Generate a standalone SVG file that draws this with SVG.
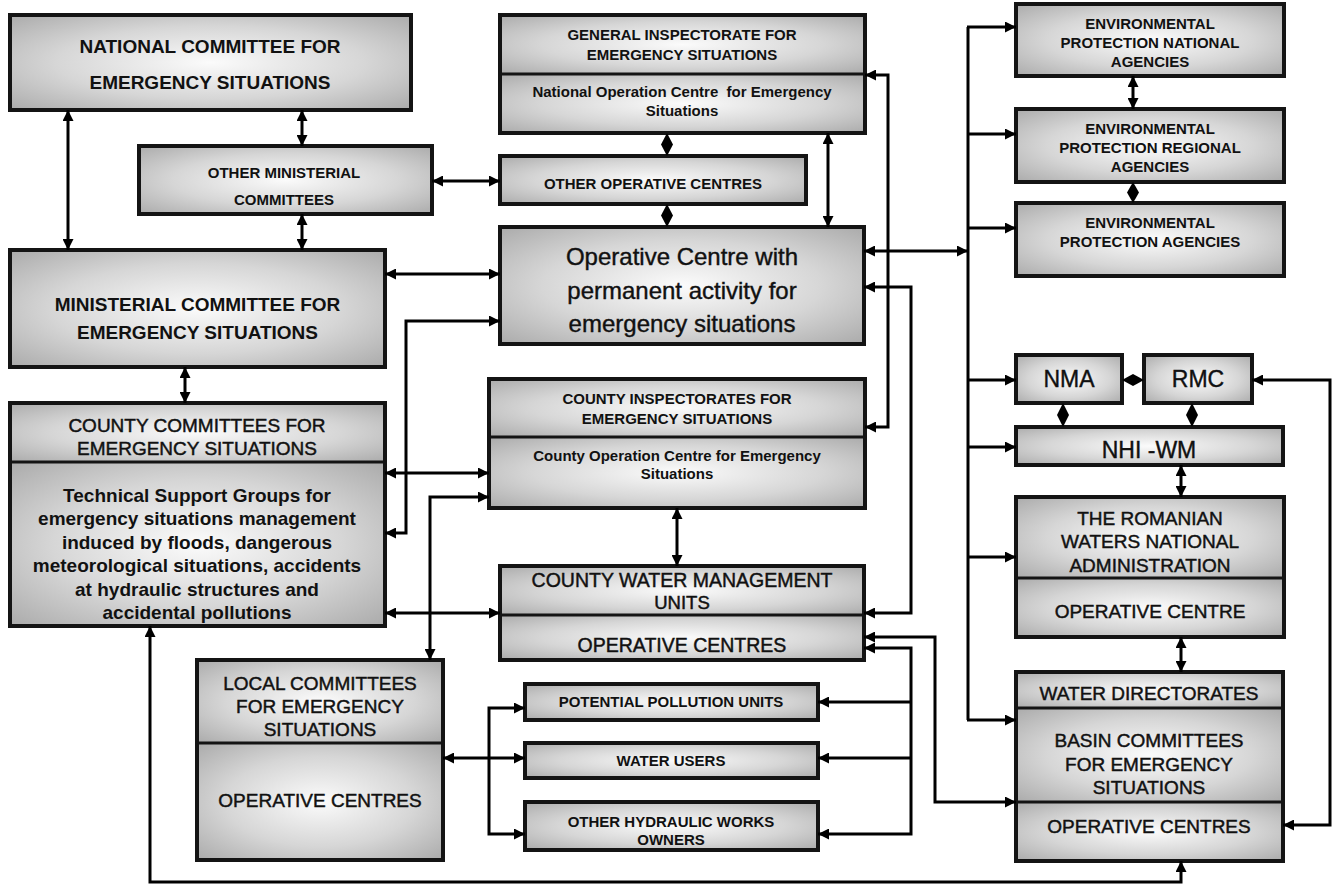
<svg xmlns="http://www.w3.org/2000/svg" width="1336" height="885" viewBox="0 0 1336 885">
<defs>
<radialGradient id="g" cx="50%" cy="50%" r="70%">
<stop offset="0" stop-color="#fbfbfb"/>
<stop offset="0.55" stop-color="#d6d6d6"/>
<stop offset="1" stop-color="#ababab"/>
</radialGradient>
<marker id="a" viewBox="0 0 10 10" refX="10" refY="5" markerWidth="11" markerHeight="11" markerUnits="userSpaceOnUse" orient="auto-start-reverse">
<path d="M0,0 L10,5 L0,10 z" fill="#000"/>
</marker>
</defs>
<style>
.s{fill:url(#g);stroke:none}
.b{fill:none;stroke:#141414;stroke-width:4}
.d{stroke:#141414;stroke-width:3}
.c{fill:none;stroke:#000;stroke-width:3;marker-start:url(#a);marker-end:url(#a)}
.e{fill:none;stroke:#000;stroke-width:3;marker-end:url(#a)}
.dm{fill:#000}
text{font-family:"Liberation Sans",Arial,sans-serif;fill:#111;text-anchor:middle}
.tb19{font-size:19px;font-weight:bold}
.tr19{font-size:19px;stroke:#111;stroke-width:0.45}
.tr185{font-size:18.5px;stroke:#111;stroke-width:0.45}
.tr195{font-size:19.5px;stroke:#111;stroke-width:0.45}
.tb15{font-size:15px;font-weight:bold}
.tr24{font-size:24px;stroke:#111;stroke-width:0.4}
.tr23{font-size:23px;stroke:#111;stroke-width:0.4}
</style>
<rect width="1336" height="885" fill="#fff"/>

<g id="national">
<rect class="s" x="10" y="15" width="401" height="95"/>
<rect class="b" x="10" y="15" width="401" height="95"/>
<text class="tb19" x="210" y="53">NATIONAL COMMITTEE FOR</text>
<text class="tb19" x="210" y="89">EMERGENCY SITUATIONS</text>
</g>

<g id="other-ministerial">
<rect class="s" x="139" y="146" width="293" height="68"/>
<rect class="b" x="139" y="146" width="293" height="68"/>
<text class="tb15" x="284" y="178">OTHER MINISTERIAL</text>
<text class="tb15" x="284" y="205">COMMITTEES</text>
</g>

<g id="general-inspectorate">
<rect class="s" x="500" y="15" width="365" height="59"/>
<rect class="s" x="500" y="74" width="365" height="59"/>
<rect class="b" x="500" y="15" width="365" height="118"/>
<line class="d" x1="500" y1="74" x2="865" y2="74"/>
<text class="tb15" x="682" y="40">GENERAL INSPECTORATE FOR</text>
<text class="tb15" x="682" y="60">EMERGENCY SITUATIONS</text>
<text class="tb15" x="682" y="97" xml:space="preserve">National Operation Centre  for Emergency</text>
<text class="tb15" x="682" y="116">Situations</text>
</g>

<g id="other-operative">
<rect class="s" x="500" y="156" width="306" height="48"/>
<rect class="b" x="500" y="156" width="306" height="48"/>
<text class="tb15" x="653" y="189">OTHER OPERATIVE CENTRES</text>
</g>

<g id="operative-centre">
<rect class="s" x="500" y="227" width="364" height="117"/>
<rect class="b" x="500" y="227" width="364" height="117"/>
<text class="tr24" x="682" y="265">Operative Centre with</text>
<text class="tr24" x="682" y="298.5">permanent activity for</text>
<text class="tr24" x="682" y="332">emergency situations</text>
</g>

<g id="ministerial">
<rect class="s" x="10" y="250" width="375" height="117"/>
<rect class="b" x="10" y="250" width="375" height="117"/>
<text class="tb19" x="197.5" y="311">MINISTERIAL COMMITTEE FOR</text>
<text class="tb19" x="197.5" y="339">EMERGENCY SITUATIONS</text>
</g>

<g id="county-committees">
<rect class="s" x="10" y="403" width="375" height="59"/>
<rect class="s" x="10" y="462" width="375" height="164"/>
<rect class="b" x="10" y="403" width="375" height="223"/>
<line class="d" x1="10" y1="462" x2="385" y2="462"/>
<text class="tr19" x="197" y="432">COUNTY COMMITTEES FOR</text>
<text class="tr19" x="197" y="455">EMERGENCY SITUATIONS</text>
<text class="tb19" x="197" y="502">Technical Support Groups for</text>
<text class="tb19" x="197" y="525.4">emergency situations management</text>
<text class="tb19" x="197" y="548.8">induced by floods, dangerous</text>
<text class="tb19" x="197" y="572.2">meteorological situations, accidents</text>
<text class="tb19" x="197" y="595.6">at hydraulic structures and</text>
<text class="tb19" x="197" y="619">accidental pollutions</text>
</g>

<g id="county-inspectorates">
<rect class="s" x="489" y="379" width="376" height="58"/>
<rect class="s" x="489" y="437" width="376" height="71"/>
<rect class="b" x="489" y="379" width="376" height="129"/>
<line class="d" x1="489" y1="437" x2="865" y2="437"/>
<text class="tb15" x="677" y="404">COUNTY INSPECTORATES FOR</text>
<text class="tb15" x="677" y="424">EMERGENCY SITUATIONS</text>
<text class="tb15" x="677" y="461">County Operation Centre for Emergency</text>
<text class="tb15" x="677" y="479">Situations</text>
</g>

<g id="county-water">
<rect class="s" x="500" y="566" width="364" height="49"/>
<rect class="s" x="500" y="615" width="364" height="45"/>
<rect class="b" x="500" y="566" width="364" height="94"/>
<line class="d" x1="500" y1="615" x2="864" y2="615"/>
<text class="tr195" x="682" y="587">COUNTY WATER MANAGEMENT</text>
<text class="tr185" x="682" y="609">UNITS</text>
<text class="tr195" x="682" y="652">OPERATIVE CENTRES</text>
</g>

<g id="local-committees">
<rect class="s" x="197" y="660" width="246" height="83"/>
<rect class="s" x="197" y="743" width="246" height="117"/>
<rect class="b" x="197" y="660" width="246" height="200"/>
<line class="d" x1="197" y1="743" x2="443" y2="743"/>
<text class="tr19" x="320" y="690">LOCAL COMMITTEES</text>
<text class="tr19" x="320" y="713">FOR EMERGENCY</text>
<text class="tr19" x="320" y="736">SITUATIONS</text>
<text class="tr19" x="320" y="807">OPERATIVE CENTRES</text>
</g>

<g id="potential-pollution">
<rect class="s" x="525" y="684" width="293" height="36"/>
<rect class="b" x="525" y="684" width="293" height="36"/>
<text class="tb15" x="671" y="707">POTENTIAL POLLUTION UNITS</text>
</g>

<g id="water-users">
<rect class="s" x="525" y="743" width="293" height="35"/>
<rect class="b" x="525" y="743" width="293" height="35"/>
<text class="tb15" x="671" y="766">WATER USERS</text>
</g>

<g id="other-hydraulic">
<rect class="s" x="525" y="802" width="293" height="48"/>
<rect class="b" x="525" y="802" width="293" height="48"/>
<text class="tb15" x="671" y="827">OTHER HYDRAULIC WORKS</text>
<text class="tb15" x="671" y="845">OWNERS</text>
</g>

<g id="env-national">
<rect class="s" x="1016" y="4" width="268" height="72"/>
<rect class="b" x="1016" y="4" width="268" height="72"/>
<text class="tb15" x="1150" y="29">ENVIRONMENTAL</text>
<text class="tb15" x="1150" y="48">PROTECTION NATIONAL</text>
<text class="tb15" x="1150" y="67">AGENCIES</text>
</g>

<g id="env-regional">
<rect class="s" x="1016" y="109" width="268" height="73"/>
<rect class="b" x="1016" y="109" width="268" height="73"/>
<text class="tb15" x="1150" y="134">ENVIRONMENTAL</text>
<text class="tb15" x="1150" y="153">PROTECTION REGIONAL</text>
<text class="tb15" x="1150" y="172">AGENCIES</text>
</g>

<g id="env-agencies">
<rect class="s" x="1016" y="203" width="268" height="73"/>
<rect class="b" x="1016" y="203" width="268" height="73"/>
<text class="tb15" x="1150" y="228">ENVIRONMENTAL</text>
<text class="tb15" x="1150" y="247">PROTECTION AGENCIES</text>
</g>

<g id="nma">
<rect class="s" x="1016" y="355" width="106" height="48"/>
<rect class="b" x="1016" y="355" width="106" height="48"/>
<text class="tr23" x="1069" y="387">NMA</text>
</g>

<g id="rmc">
<rect class="s" x="1144" y="355" width="108" height="48"/>
<rect class="b" x="1144" y="355" width="108" height="48"/>
<text class="tr23" x="1198" y="387">RMC</text>
</g>

<g id="nhi-wm">
<rect class="s" x="1016" y="427" width="267" height="38"/>
<rect class="b" x="1016" y="427" width="267" height="38"/>
<text class="tr23" x="1149" y="458">NHI -WM</text>
</g>

<g id="romanian-waters">
<rect class="s" x="1016" y="497" width="268" height="81"/>
<rect class="s" x="1016" y="578" width="268" height="59"/>
<rect class="b" x="1016" y="497" width="268" height="140"/>
<line class="d" x1="1016" y1="578" x2="1284" y2="578"/>
<text class="tr19" x="1150" y="525">THE ROMANIAN</text>
<text class="tr19" x="1150" y="548">WATERS NATIONAL</text>
<text class="tr19" x="1150" y="572">ADMINISTRATION</text>
<text class="tr19" x="1150" y="618">OPERATIVE CENTRE</text>
</g>

<g id="water-directorates">
<rect class="s" x="1016" y="672" width="267" height="36"/>
<rect class="s" x="1016" y="708" width="267" height="94"/>
<rect class="s" x="1016" y="802" width="267" height="59"/>
<rect class="b" x="1016" y="672" width="267" height="189"/>
<line class="d" x1="1016" y1="708" x2="1285" y2="708"/>
<line class="d" x1="1016" y1="802" x2="1285" y2="802"/>
<text class="tr19" x="1149" y="700">WATER DIRECTORATES</text>
<text class="tr19" x="1149" y="747">BASIN COMMITTEES</text>
<text class="tr19" x="1149" y="771">FOR EMERGENCY</text>
<text class="tr19" x="1149" y="794">SITUATIONS</text>
<text class="tr19" x="1149" y="833">OPERATIVE CENTRES</text>
</g>

<g id="connectors">
<path class="c" d="M68,110 V250"/>
<path class="c" d="M302,110 V146"/>
<path class="c" d="M302,214 V250"/>
<path class="c" d="M432,181 H500"/>
<path class="c" d="M185,367 V403"/>
<path class="c" d="M385,274 H500"/>
<path class="c" d="M500,321 H406 V533 H385"/>
<path class="c" d="M385,473 H489"/>
<path class="c" d="M489,497 H430 V660"/>
<path class="c" d="M385,613 H500"/>
<polygon class="dm" points="667,133 673,144.5 667,156 661,144.5"/>
<polygon class="dm" points="667,204 673,215.5 667,227 661,215.5"/>
<path class="c" d="M828,133 V227"/>
<path class="c" d="M677,508 V566"/>
<path class="c" d="M865,75 H888 V427 H865"/>
<path class="c" d="M864,287 H911 V613 H864"/>
<path class="c" d="M864,251 H968"/>
<path class="c" d="M864,637 H935 V802 H1016"/>
<path class="c" d="M864,648 H911 V834 H818"/>
<path class="e" d="M911,702 H818"/>
<path class="e" d="M911,758 H818"/>
<path class="c" d="M525,708 H489 V834 H525"/>
<path class="c" d="M443,758 H525"/>
<path class="c" d="M150,626 V882 H1181 V861"/>
<path fill="none" stroke="#000" stroke-width="3" d="M968,27 V720"/>
<path class="e" d="M967,27 H1016"/>
<path class="e" d="M968,134 H1016"/>
<path class="e" d="M968,228 H1016"/>
<path class="e" d="M968,380 H1016"/>
<path class="e" d="M968,447 H1016"/>
<path class="e" d="M968,557 H1016"/>
<path class="e" d="M967,720 H1016"/>
<path class="c" d="M1133,76 V109"/>
<polygon class="dm" points="1133,182 1139,192.5 1133,203 1127,192.5"/>
<polygon class="dm" points="1122,380 1133,374 1144,380 1133,386"/>
<polygon class="dm" points="1063,403 1069,415 1063,427 1057,415"/>
<polygon class="dm" points="1192,403 1198,415 1192,427 1186,415"/>
<path class="c" d="M1181,465 V497"/>
<path class="c" d="M1181,637 V672"/>
<path class="c" d="M1252,380 H1330 V825 H1283"/>
</g>
</svg>
